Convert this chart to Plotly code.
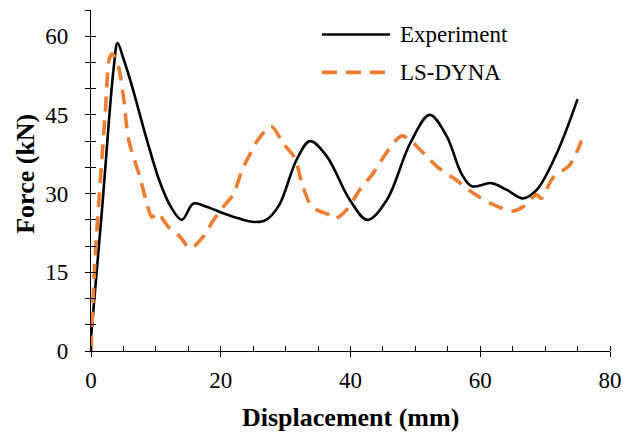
import plotly.graph_objects as go

# ---- data ----
exp_x = [0, 1.7, 3.5, 4.1, 5.0, 6.2, 8.6, 10.5, 12.3, 14.0, 15.8, 17.8, 20.3, 22.7, 25.2, 27.0,
         29.0, 31.7, 33.75, 36.3, 39.9, 42.6, 45.6, 49.2, 52.2, 54.8, 57.1, 58.7, 61.7, 64.1,
         66.6, 68.7, 71.8, 75.0]
exp_y = [2.5, 27.0, 54.0, 58.7, 55.7, 51.0, 40.3, 32.6, 27.5, 25.0, 28.1, 27.5, 26.3, 25.3, 24.6, 25.0,
         27.8, 36.5, 40.0, 37.2, 28.8, 25.0, 28.8, 39.6, 45.0, 41.0, 33.8, 31.4, 32.0, 30.7,
         29.1, 30.7, 37.7, 48.0]

ls_x = [0, 0.6, 2.2, 2.9, 3.3, 4.2, 5.0, 5.8, 7.5, 8.6, 9.4, 10.2, 11.9, 13.7, 15.3, 17.3, 18.9,
        20.4, 21.9, 23.3, 24.5, 25.6, 27.8, 29.6, 31.4, 32.5, 33.7, 34.8, 36.6, 37.5, 39.4, 41.4,
        43.5, 45.0, 47.1, 48.0, 49.4, 50.7, 53.3, 56.3, 58.9, 62.0, 65.1, 66.6, 68.7, 69.4, 71.2,
        73.8, 75.6]
ls_y = [0, 16.8, 45.4, 56.0, 56.6, 54.3, 48.5, 40.3, 33.3, 28.2, 25.5, 26.3, 23.7, 21.8, 19.6, 21.8, 25.0,
        27.5, 29.8, 34.5, 37.5, 40.0, 42.8, 39.6, 36.8, 32.0, 28.2, 26.9, 26.0, 25.2, 26.9, 30.7,
        33.9, 36.8, 40.3, 41.0, 40.0, 38.4, 35.2, 32.6, 30.1, 27.9, 26.7, 27.5, 29.8, 29.1, 33.0,
        35.5, 40.1]

x_major = [0, 20, 40, 60, 80]
y_major = [0, 15, 30, 45, 60]
names = ["Experiment", "LS-DYNA"]
colors = ["#000000", "#ED7D31"]

FONT = "Liberation Serif"

fig = go.Figure()
fig.add_trace(go.Scatter(x=exp_x, y=exp_y, mode="lines", name=names[0],
                         line=dict(color=colors[0], width=2.6, shape="spline", smoothing=1.0),
                         showlegend=False))
fig.add_trace(go.Scatter(x=ls_x, y=ls_y, mode="lines", name=names[1],
                         line=dict(color=colors[1], width=3.6, shape="spline", smoothing=0.9,
                                   dash="15px,9px"),
                         showlegend=False))

tickfont = dict(family=FONT, size=23, color="black")

fig.update_layout(
    width=623, height=433,
    margin=dict(l=91, r=13, t=10, b=82),
    plot_bgcolor="white", paper_bgcolor="white",
    font=dict(family=FONT, color="black"),
    xaxis=dict(range=[0, 80], tickvals=x_major, ticks="outside", ticklen=5, tickwidth=1.3,
               tickcolor="black", showline=True, linecolor="black", linewidth=1.3,
               showgrid=False, zeroline=False, tickfont=tickfont, ticklabelstandoff=3,
               automargin=False,
               minor=dict(ticks="inside", dtick=5, ticklen=5, tickwidth=1.3, tickcolor="black",
                          showgrid=False)),
    yaxis=dict(range=[0, 65], tickvals=y_major, ticks="outside", ticklen=5, tickwidth=1.3,
               tickcolor="black", showline=True, linecolor="black", linewidth=1.3,
               showgrid=False, zeroline=False, tickfont=tickfont, ticklabelstandoff=12,
               automargin=False,
               minor=dict(ticks="outside", dtick=5, ticklen=5, tickwidth=1.3, tickcolor="black",
                          showgrid=False)),
    xaxis2=dict(overlaying="x", range=[0, 80], tickvals=x_major, ticks="inside", ticklen=5,
                tickwidth=1.3, tickcolor="black", showticklabels=False, showgrid=False,
                zeroline=False, showline=False, anchor="y", automargin=False),
    yaxis2=dict(overlaying="y", range=[0, 65], dtick=5, tick0=0, ticks="inside", ticklen=5,
                tickwidth=1.3, tickcolor="black", showticklabels=False, showgrid=False,
                zeroline=False, showline=False, anchor="x", automargin=False),
)

# invisible trace so the overlay axes are drawn
fig.add_trace(go.Scatter(x=[exp_x[0]], y=[exp_y[0]], xaxis="x2", yaxis="y2", mode="markers",
                         marker=dict(opacity=0), showlegend=False, hoverinfo="skip"))

# axis titles
fig.add_annotation(text="<b>Displacement (mm)</b>", xref="paper", yref="paper", x=0.5, y=-0.194,
                   xanchor="center", yanchor="middle", showarrow=False,
                   font=dict(family=FONT, size=26, color="black"))
fig.add_annotation(text="<b>Force (kN)</b>", xref="paper", yref="paper", x=-0.125, y=0.52,
                   xanchor="center", yanchor="middle", showarrow=False, textangle=-90,
                   font=dict(family=FONT, size=26, color="black"))

# legend (drawn manually for long line samples)
leg_y = [0.928, 0.817]
for name, col, ly, w, d in zip(names, colors, leg_y, [2.6, 3.6], ["solid", "15px,9px"]):
    fig.add_shape(type="line", xref="paper", yref="paper", x0=0.445, x1=0.576, y0=ly, y1=ly,
                  line=dict(color=col, width=w, dash=d))
    fig.add_annotation(text=name, xref="paper", yref="paper", x=0.5915, y=ly, xanchor="left",
                       yanchor="middle", showarrow=False,
                       font=dict(family=FONT, size=23, color="black"))

fig.write_html("out.html", config={"displayModeBar": False},
               post_script="document.body.style.margin='0';document.body.style.overflow='hidden';")
